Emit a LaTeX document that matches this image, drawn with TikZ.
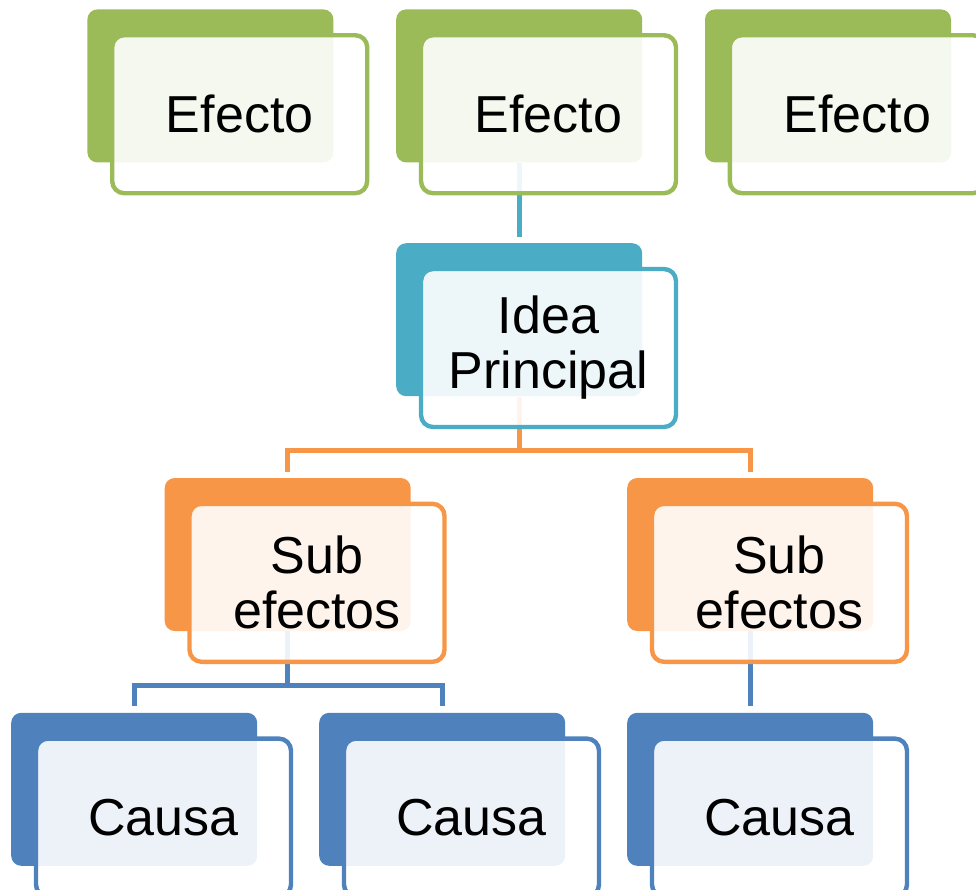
\documentclass[tikz,border=0pt]{standalone}
\usepackage{fontspec}
\setmainfont{Liberation Sans}
\usepackage{tikz}
\usetikzlibrary{positioning, shapes.geometric, arrows}
\definecolor{verde}{RGB}{155,187,89}
\definecolor{turq}{RGB}{75,172,198}
\definecolor{naranja}{RGB}{247,150,70}
\definecolor{azul}{RGB}{79,129,189}
\tikzstyle{back} = [rectangle, rounded corners=5pt, minimum width=123pt, minimum height=76.5pt, inner sep=0pt]
\tikzstyle{front} = [rectangle, rounded corners=6pt, minimum width=127.5pt, minimum height=79pt, inner sep=0pt, text width=120pt, text centered, line width=2.2pt, fill=white, fill opacity=0.9, text opacity=1, font=\fontsize{26}{27.5}\selectfont, anchor=north west]
\tikzstyle{link} = [line width=2.5pt, shorten >=3pt]

\begin{document}
\begin{tikzpicture}
		\useasboundingbox (0,0) rectangle (488pt,-445pt);
		
		% Back boxes
		\node (e1) [back, fill=verde, anchor=north west] at (43.5pt,-4.5pt) {};
		\node (e2) [back, fill=verde, right=31pt of e1] {};
		\node (e3) [back, fill=verde, right=31pt of e2] {};
		\node (idea) [back, fill=turq, below=40pt of e2] {};
		\node (sub1) [back, fill=naranja, below=40.5pt of idea, xshift=-115.75pt] {};
		\node (sub2) [back, fill=naranja, below=40.5pt of idea, xshift=115.5pt] {};
		\node (c1) [back, fill=azul, below=40.5pt of sub1, xshift=-76.75pt] {};
		\node (c2) [back, fill=azul, below=40.5pt of sub1, xshift=77.25pt] {};
		\node (c3) [back, fill=azul, below=40.5pt of sub2] {};
		
		% Lines
		\draw [link, turq] (e2.south) -- (idea.north);
		\draw [link, naranja] (idea.south) -- ([yshift=13.5pt]idea.south |- sub1.north) -| (sub1.north);
		\draw [link, naranja] (idea.south) -- ([yshift=13.5pt]idea.south |- sub2.north) -| (sub2.north);
		\draw [link, azul] (sub1.south) -- ([yshift=13.5pt]sub1.south |- c1.north) -| (c1.north);
		\draw [link, azul] (sub1.south) -- ([yshift=13.5pt]sub1.south |- c2.north) -| (c2.north);
		\draw [link, azul] (sub2.south) -- (c3.north);
		
		% Front boxes
		\node (e1f) [front, draw=verde] at ([shift={(11.5pt,-12pt)}]e1.north west) {Efecto};
		\node (e2f) [front, draw=verde] at ([shift={(11.5pt,-12pt)}]e2.north west) {Efecto};
		\node (e3f) [front, draw=verde] at ([shift={(11.5pt,-12pt)}]e3.north west) {Efecto};
		\node (ideaf) [front, draw=turq] at ([shift={(11.5pt,-12pt)}]idea.north west) {Idea\\Principal};
		\node (sub1f) [front, draw=naranja] at ([shift={(11.5pt,-12pt)}]sub1.north west) {Sub\\efectos};
		\node (sub2f) [front, draw=naranja] at ([shift={(11.5pt,-12pt)}]sub2.north west) {Sub\\efectos};
		\node (c1f) [front, draw=azul] at ([shift={(11.5pt,-12pt)}]c1.north west) {Causa};
		\node (c2f) [front, draw=azul] at ([shift={(11.5pt,-12pt)}]c2.north west) {Causa};
		\node (c3f) [front, draw=azul] at ([shift={(11.5pt,-12pt)}]c3.north west) {Causa};
		
	\end{tikzpicture}
\end{document}
